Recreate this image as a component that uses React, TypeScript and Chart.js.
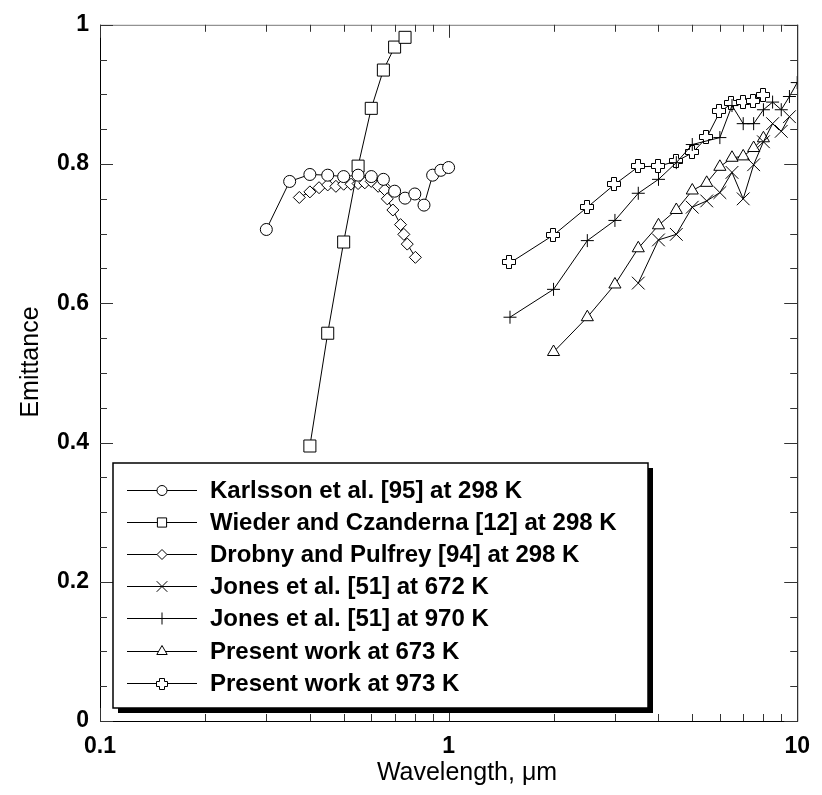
import React, { useEffect, useRef } from 'react';
import { Chart, registerables } from 'chart.js';
import { drawPoint } from 'chart.js/helpers';

Chart.register(...registerables);

// ---- data ----
const KARLSSON_X = [0.3, 0.35, 0.4, 0.45, 0.5, 0.55, 0.6, 0.65, 0.7, 0.75, 0.8, 0.85, 0.9, 0.95, 1.0];
const KARLSSON_Y = [0.706, 0.775, 0.785, 0.784, 0.782, 0.784, 0.782, 0.778, 0.761, 0.751, 0.757, 0.741, 0.784, 0.791, 0.795];

const WIEDER_X = [0.4, 0.45, 0.5, 0.55, 0.6, 0.65, 0.7, 0.75];
const WIEDER_Y = [0.395, 0.557, 0.688, 0.797, 0.88, 0.935, 0.968, 0.982];

const DROBNY_X = [0.373, 0.4, 0.425, 0.45, 0.475, 0.5, 0.525, 0.55, 0.575, 0.6, 0.628, 0.656, 0.667, 0.692, 0.728, 0.744, 0.761, 0.803];
const DROBNY_Y = [0.752, 0.76, 0.766, 0.77, 0.768, 0.771, 0.771, 0.772, 0.773, 0.775, 0.768, 0.763, 0.75, 0.734, 0.713, 0.699, 0.685, 0.666];

const JONES672_X = [3.5, 4, 4.5, 5, 5.5, 6, 6.5, 7, 7.5, 8, 8.5, 9, 9.5];
const JONES672_Y = [0.629, 0.691, 0.699, 0.738, 0.747, 0.759, 0.788, 0.75, 0.799, 0.832, 0.858, 0.847, 0.868];

const JONES970_X = [1.5, 2, 2.5, 3, 3.5, 4, 4.5, 5, 6, 6.5, 7, 7.5, 8, 8.5, 9, 9.5, 10];
const JONES970_Y = [0.58, 0.62, 0.69, 0.719, 0.758, 0.778, 0.802, 0.828, 0.838, 0.884, 0.858, 0.858, 0.878, 0.889, 0.878, 0.897, 0.917];

const PRESENT673_X = [2, 2.5, 3, 3.5, 4, 4.5, 5, 5.5, 6, 6.5, 7, 7.5, 8];
const PRESENT673_Y = [0.53, 0.58, 0.627, 0.679, 0.712, 0.734, 0.762, 0.773, 0.796, 0.809, 0.811, 0.823, 0.837];

const PRESENT973_X = [1.5, 2, 2.5, 3, 3.5, 4, 4.5, 5, 5.5, 6, 6.5, 7, 7.5, 8];
const PRESENT973_Y = [0.658, 0.698, 0.738, 0.771, 0.796, 0.797, 0.804, 0.816, 0.838, 0.875, 0.887, 0.888, 0.89, 0.899];

const SERIES_LABELS = [
  'Karlsson et al. [95] at 298 K',
  'Wieder and Czanderna [12] at 298 K',
  'Drobny and Pulfrey [94] at 298 K',
  'Jones et al. [51] at 672 K',
  'Jones et al. [51] at 970 K',
  'Present work at 673 K',
  'Present work at 973 K',
];

const X_TICKS = [0.1, 1, 10];
const X_TICK_LABELS = ['0.1', '1', '10'];
const X_MINOR = [0.2, 0.3, 0.4, 0.5, 0.6, 0.7, 0.8, 0.9, 2, 3, 4, 5, 6, 7, 8, 9];
const Y_TICKS = [0, 0.2, 0.4, 0.6, 0.8, 1];
const Y_TICK_LABELS = ['0', '0.2', '0.4', '0.6', '0.8', '1'];
const Y_MINOR = [0.05, 0.1, 0.15, 0.25, 0.3, 0.35, 0.45, 0.5, 0.55, 0.65, 0.7, 0.75, 0.85, 0.9, 0.95];

const X_TITLE = 'Wavelength, \u03bcm';
const Y_TITLE = 'Emittance';

const FONT = '"Liberation Sans", Arial, Helvetica, sans-serif';

// outlined "Greek cross" marker drawn on a small canvas, pixel aligned
function makeOutlinedPlus(size: number): HTMLCanvasElement {
  const c = document.createElement('canvas');
  c.width = size + 2;
  c.height = size + 2;
  const g = c.getContext('2d')!;
  const cx = (size + 2) / 2;
  const h = Math.floor(size / 2) + 0.5;
  const a = Math.floor(size * 0.2) + 0.5;
  const o = Math.floor(cx);
  g.beginPath();
  g.moveTo(o - a, o - h);
  g.lineTo(o + a, o - h);
  g.lineTo(o + a, o - a);
  g.lineTo(o + h, o - a);
  g.lineTo(o + h, o + a);
  g.lineTo(o + a, o + a);
  g.lineTo(o + a, o + h);
  g.lineTo(o - a, o + h);
  g.lineTo(o - a, o + a);
  g.lineTo(o - h, o + a);
  g.lineTo(o - h, o - a);
  g.lineTo(o - a, o - a);
  g.closePath();
  g.fillStyle = '#fff';
  g.fill();
  g.lineWidth = 1;
  g.strokeStyle = '#000';
  g.stroke();
  return c;
}

export default function App() {
  const ref = useRef<HTMLCanvasElement | null>(null);

  useEffect(() => {
    document.body.style.margin = '0';
    const canvas = ref.current!;
    const plusBig = makeOutlinedPlus(13);
    const plusSmall = makeOutlinedPlus(10);

    const styles: any[] = [
      { pointStyle: 'circle', radius: 6, legendRadius: 5 },
      { pointStyle: 'rect', radius: 8.5, legendRadius: 6.5 },
      { pointStyle: 'rectRot', radius: 6, legendRadius: 5 },
      { pointStyle: 'crossRot', radius: 9, legendRadius: 7.5 },
      { pointStyle: 'cross', radius: 6.5, legendRadius: 6 },
      { pointStyle: 'triangle', radius: 7, legendRadius: 6 },
      { pointStyle: 'circle', radius: 0, legendRadius: 5, image: plusBig, legendImage: plusSmall },
    ];
    const xs = [KARLSSON_X, WIEDER_X, DROBNY_X, JONES672_X, JONES970_X, PRESENT673_X, PRESENT973_X];
    const ys = [KARLSSON_Y, WIEDER_Y, DROBNY_Y, JONES672_Y, JONES970_Y, PRESENT673_Y, PRESENT973_Y];

    const datasets = SERIES_LABELS.map((label, i) => ({
      label,
      data: xs[i].map((x, j) => ({ x, y: ys[i][j] })),
      showLine: true,
      borderColor: '#000',
      borderWidth: 1,
      backgroundColor: '#fff',
      pointBackgroundColor: '#fff',
      pointBorderColor: '#000',
      pointBorderWidth: 1,
      pointStyle: styles[i].pointStyle,
      pointRadius: styles[i].radius,
      tension: 0,
    }));

    const imageMarkers = {
      id: 'imageMarkers',
      afterDatasetDraw(chart: any, args: any) {
        const st = styles[args.index];
        if (!st || !st.image) return;
        const ctx = chart.ctx as CanvasRenderingContext2D;
        const meta = chart.getDatasetMeta(args.index);
        const img = st.image as HTMLCanvasElement;
        meta.data.forEach((el: any) => {
          ctx.drawImage(img, Math.round(el.x - img.width / 2), Math.round(el.y - img.height / 2));
        });
      },
    };

    const framePlugin = {
      id: 'frame',
      afterDraw(chart: any) {
        const ctx = chart.ctx as CanvasRenderingContext2D;
        const ca = chart.chartArea;
        const sx = chart.scales.x;
        const sy = chart.scales.y;
        ctx.save();
        // frame
        ctx.lineWidth = 1;
        ctx.strokeStyle = '#000';
        ctx.beginPath();
        ctx.moveTo(ca.left + 0.5, ca.top);
        ctx.lineTo(ca.left + 0.5, ca.bottom + 0.5);
        ctx.lineTo(ca.right + 0.5, ca.bottom + 0.5);
        ctx.lineTo(ca.right + 0.5, ca.top);
        ctx.stroke();
        ctx.strokeStyle = '#777';
        ctx.beginPath();
        ctx.moveTo(ca.left, ca.top + 0.5);
        ctx.lineTo(ca.right + 1, ca.top + 0.5);
        ctx.stroke();

        // inward ticks on all four sides
        ctx.strokeStyle = '#333';
        const hTick = (v: number, len: number) => {
          const y = Math.round(sy.getPixelForValue(v)) + 0.5;
          ctx.beginPath();
          ctx.moveTo(ca.left, y);
          ctx.lineTo(ca.left + len, y);
          ctx.moveTo(ca.right, y);
          ctx.lineTo(ca.right - len, y);
          ctx.stroke();
        };
        const vTick = (v: number, len: number) => {
          const x = Math.round(sx.getPixelForValue(v)) + 0.5;
          ctx.beginPath();
          ctx.moveTo(x, ca.bottom);
          ctx.lineTo(x, ca.bottom - len);
          ctx.moveTo(x, ca.top);
          ctx.lineTo(x, ca.top + len);
          ctx.stroke();
        };
        Y_TICKS.forEach((v) => hTick(v, 13));
        Y_MINOR.forEach((v) => hTick(v, 7));
        X_TICKS.forEach((v) => vTick(v, 13));
        X_MINOR.forEach((v) => vTick(v, 7));

        // axis titles
        ctx.fillStyle = '#000';
        ctx.font = `25px ${FONT}`;
        ctx.textAlign = 'center';
        ctx.textBaseline = 'middle';
        ctx.fillText(X_TITLE, 467, 773);
        ctx.save();
        ctx.translate(31, 362);
        ctx.rotate(-Math.PI / 2);
        ctx.fillText(Y_TITLE, 0, 0);
        ctx.restore();

        // legend box with drop shadow
        const L = 113, T = 463, R = 648, B = 708;
        ctx.fillStyle = '#000';
        ctx.fillRect(L + 5, T + 5, R - L, B - T);
        ctx.fillStyle = '#fff';
        ctx.fillRect(L, T, R - L, B - T);
        ctx.strokeStyle = '#000';
        ctx.lineWidth = 1.5;
        ctx.strokeRect(L, T, R - L, B - T);
        ctx.font = `bold 24px ${FONT}`;
        ctx.textAlign = 'left';
        ctx.textBaseline = 'middle';
        SERIES_LABELS.forEach((label, i) => {
          const y = Math.round(490 + i * 32.1) + 0.5;
          ctx.strokeStyle = '#000';
          ctx.lineWidth = 1;
          ctx.beginPath();
          ctx.moveTo(127, y);
          ctx.lineTo(197, y);
          ctx.stroke();
          ctx.fillStyle = '#fff';
          ctx.strokeStyle = '#000';
          if (styles[i].legendImage) {
            const im = styles[i].legendImage as HTMLCanvasElement;
            ctx.drawImage(im, Math.round(162 - im.width / 2), Math.round(y - im.height / 2));
          } else {
            drawPoint(ctx, {
              pointStyle: styles[i].pointStyle,
              radius: styles[i].legendRadius,
              borderWidth: 1,
              rotation: 0,
            } as any, 162, y);
          }
          ctx.fillStyle = '#000';
          ctx.fillText(label, 210, y + 1);
        });
        ctx.restore();
      },
    };

    const chart = new Chart(canvas, {
      type: 'scatter',
      data: { datasets: datasets as any },
      options: {
        animation: false,
        responsive: false,
        maintainAspectRatio: false,
        layout: { padding: { left: 0, top: 15, right: 20, bottom: 0 } },
        plugins: { legend: { display: false }, tooltip: { enabled: false } },
        scales: {
          x: {
            type: 'logarithmic',
            min: 0.1,
            max: 10,
            grid: { display: false, drawTicks: false },
            border: { display: false },
            afterBuildTicks: (s: any) => {
              s.ticks = X_TICKS.map((value) => ({ value }));
            },
            afterFit: (s: any) => {
              s.height = 74;
            },
            ticks: {
              autoSkip: false,
              maxRotation: 0,
              padding: 12,
              color: '#000',
              font: { family: FONT, size: 23, weight: 'bold' },
              callback: (_v: any, i: number) => X_TICK_LABELS[i],
            },
          },
          y: {
            min: 0,
            max: 1,
            grid: { display: false, drawTicks: false },
            border: { display: false },
            afterBuildTicks: (s: any) => {
              s.ticks = Y_TICKS.map((value) => ({ value }));
            },
            afterFit: (s: any) => {
              s.width = 100;
            },
            ticks: {
              autoSkip: false,
              padding: 11,
              color: '#000',
              font: { family: FONT, size: 23, weight: 'bold' },
              callback: (_v: any, i: number) => Y_TICK_LABELS[i],
            },
          },
        },
      } as any,
      plugins: [imageMarkers, framePlugin],
    });
    return () => chart.destroy();
  }, []);

  return <canvas ref={ref} width={822} height={795} style={{ display: 'block' }} />;
}
